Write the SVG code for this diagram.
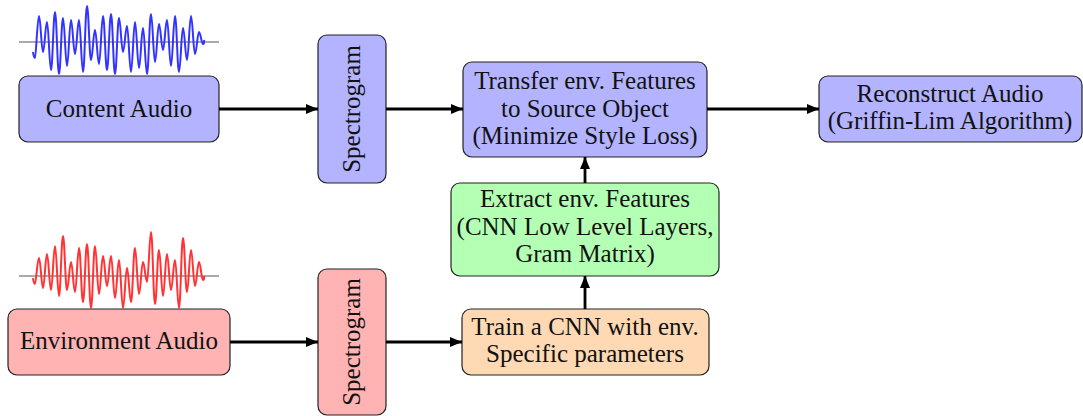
<svg xmlns="http://www.w3.org/2000/svg" width="1083" height="416" viewBox="0 0 1083 416">
<style>
.box{stroke:#222;stroke-width:1.2}
.blue{fill:#b3b3ff}
.red{fill:#ffb3b3}
.green{fill:#b3ffb3}
.orange{fill:#ffd9b3}
text{font-family:"Liberation Serif","Times New Roman",serif;font-size:25px;fill:#111;text-anchor:middle}
.conn{stroke:#000;stroke-width:2.8;fill:none;marker-end:url(#arr)}
.axis{stroke:#aaa;stroke-width:2;fill:none}
.wave{fill:none;stroke-width:2;stroke-linejoin:round}
</style>
<defs>
<marker id="arr" markerUnits="userSpaceOnUse" markerWidth="14" markerHeight="12" refX="12" refY="5" orient="auto">
<path d="M0,0 L12,5 L0,10 z" fill="#000"/>
</marker>
</defs>
<rect width="1083" height="416" fill="#fff"/>

<g id="content-wave">
<line class="axis" x1="19" y1="42" x2="219" y2="42"/>
<path class="wave" stroke="#3333ff" d="M33,52 C33.5,56 34,58 35,58 S37.4,16 39,16 S41.4,52 43,52 S45.4,22 47,22 S49.4,70 51,70 S53.4,12 55,12 S57.4,74 59,74 S61.4,18 63,18 S65.4,66 67,66 S69.4,20 71,20 S73.4,54 75,54 S77.4,20 79,20 S81.4,72 83,72 S85.4,6 87,6 S89.4,60 91,60 S93.4,30 95,30 S97.4,64 99,64 S101.4,16 103,16 S105.4,70 107,70 S109.4,14 111,14 S113.4,74 115,74 S117.4,18 119,18 S121.4,52 123,52 S125.4,26 127,26 S129.4,72 131,72 S133.4,22 135,22 S137.4,68 139,68 S141.4,28 143,28 S145.4,74 147,74 S149.4,14 151,14 S153.4,62 155,62 S157.4,24 159,24 S161.4,50 163,50 S165.4,20 167,20 S169.4,66 171,66 S173.4,16 175,16 S177.4,72 179,72 S181.4,28 183,28 S185.4,60 187,60 S189.4,16 191,16 S193.4,54 195,54 S197.4,32 199,32 S201.4,44 203,44 S204,40 204,40"/>
</g>

<g id="env-wave">
<line class="axis" x1="19" y1="276" x2="219" y2="276"/>
<path class="wave" stroke="#ff3333" d="M33,278 C33.5,282 34,284 35,284 S37.4,258 39,258 S41.4,288 43,288 S45.4,254 47,254 S49.4,290 51,290 S53.4,246 55,246 S57.4,296 59,296 S61.4,236 63,236 S65.4,290 67,290 S69.4,262 71,262 S73.4,292 75,292 S77.4,248 79,248 S81.4,302 83,302 S85.4,244 87,244 S89.4,308 91,308 S93.4,246 95,246 S97.4,294 99,294 S101.4,256 103,256 S105.4,286 107,286 S109.4,256 111,256 S113.4,298 115,298 S117.4,260 119,260 S121.4,308 123,308 S125.4,268 127,268 S129.4,302 131,302 S133.4,248 135,248 S137.4,294 139,294 S141.4,262 143,262 S145.4,282 147,282 S149.4,232 151,232 S153.4,304 155,304 S157.4,250 159,250 S161.4,296 163,296 S165.4,254 167,254 S169.4,290 171,290 S173.4,260 175,260 S177.4,308 179,308 S181.4,238 183,238 S185.4,292 187,292 S189.4,250 191,250 S193.4,286 195,286 S197.4,262 199,262 S201.4,280 203,280 S204,276 204,276"/>
</g>

<g id="content-audio">
<rect class="box blue" x="19" y="76" width="200" height="66" rx="9"/>
<text x="119" y="117">Content Audio</text>
</g>

<g id="spectrogram-top">
<rect class="box blue" x="318" y="35" width="68" height="148" rx="9"/>
<text transform="translate(360,109) rotate(-90)" x="0" y="0">Spectrogram</text>
</g>

<g id="transfer">
<rect class="box blue" x="463" y="62" width="244" height="95" rx="9"/>
<text x="585" y="89">Transfer env. Features</text>
<text x="585" y="117">to Source Object</text>
<text x="585" y="144">(Minimize Style Loss)</text>
</g>

<g id="reconstruct">
<rect class="box blue" x="819" y="76" width="263" height="66" rx="9"/>
<text x="950" y="102">Reconstruct Audio</text>
<text x="950" y="129">(Griffin-Lim Algorithm)</text>
</g>

<g id="extract">
<rect class="box green" x="451" y="183" width="268" height="93" rx="9"/>
<text x="585" y="207">Extract env. Features</text>
<text x="585" y="235">(CNN Low Level Layers,</text>
<text x="585" y="262">Gram Matrix)</text>
</g>

<g id="environment-audio">
<rect class="box red" x="8" y="309" width="222" height="66" rx="9"/>
<text x="119" y="349">Environment Audio</text>
</g>

<g id="spectrogram-bottom">
<rect class="box red" x="318" y="269" width="68" height="146" rx="9"/>
<text transform="translate(360,342) rotate(-90)" x="0" y="0">Spectrogram</text>
</g>

<g id="train">
<rect class="box orange" x="462" y="309" width="247" height="66" rx="9"/>
<text x="585" y="335">Train a CNN with env.</text>
<text x="585" y="362">Specific parameters</text>
</g>

<g id="connectors">
<line class="conn" x1="219" y1="109" x2="318" y2="109"/>
<line class="conn" x1="386" y1="109" x2="463" y2="109"/>
<line class="conn" x1="707" y1="109" x2="819" y2="109"/>
<line class="conn" x1="585" y1="183" x2="585" y2="157"/>
<line class="conn" x1="585" y1="309" x2="585" y2="276"/>
<line class="conn" x1="230" y1="342" x2="318" y2="342"/>
<line class="conn" x1="386" y1="342" x2="462" y2="342"/>
</g>
</svg>
